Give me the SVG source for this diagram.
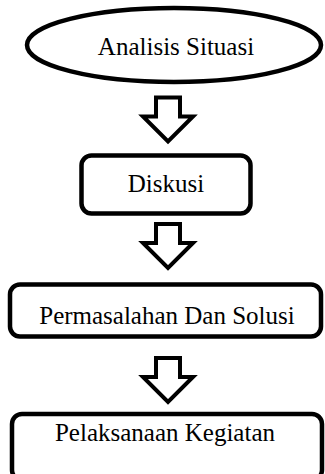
<svg xmlns="http://www.w3.org/2000/svg" width="325" height="474" viewBox="0 0 325 474">
  <style>
    .shape { fill: #ffffff; stroke: #000000; stroke-width: 4.5; }
    .arrow { fill: #ffffff; stroke: #000000; stroke-width: 4; stroke-linejoin: miter; }
    .label { font-family: "Liberation Serif", "Times New Roman", serif; font-size: 25px; fill: #000000; text-anchor: middle; }
  </style>
  <defs>
    <!-- hollow block arrow pointing down, origin at shaft top centre -->
    <path id="blockArrow" d="M -12 0 L 12 0 L 12 19 L 25 19 L 0 44 L -25 19 L -12 19 Z"/>
  </defs>

  <rect width="325" height="474" fill="#ffffff"/>

  <g id="node-analisis">
    <ellipse class="shape" cx="174" cy="45" rx="147" ry="37"/>
    <text class="label" x="176" y="55">Analisis Situasi</text>
  </g>

  <g id="node-diskusi">
    <rect class="shape" x="81.5" y="155.5" width="169" height="58" rx="10"/>
    <text class="label" x="166" y="192">Diskusi</text>
  </g>

  <g id="node-permasalahan">
    <rect class="shape" x="10" y="284.5" width="311" height="52" rx="10"/>
    <text class="label" x="167" y="324">Permasalahan Dan Solusi</text>
  </g>

  <g id="node-pelaksanaan">
    <rect class="shape" x="12" y="414" width="310" height="66" rx="10"/>
    <text class="label" x="165" y="441">Pelaksanaan Kegiatan</text>
  </g>

  <g id="connectors">
    <use href="#blockArrow" class="arrow" transform="translate(168,97.5)"/>
    <use href="#blockArrow" class="arrow" transform="translate(168,224)"/>
    <use href="#blockArrow" class="arrow" transform="translate(168,358)"/>
  </g>
</svg>
